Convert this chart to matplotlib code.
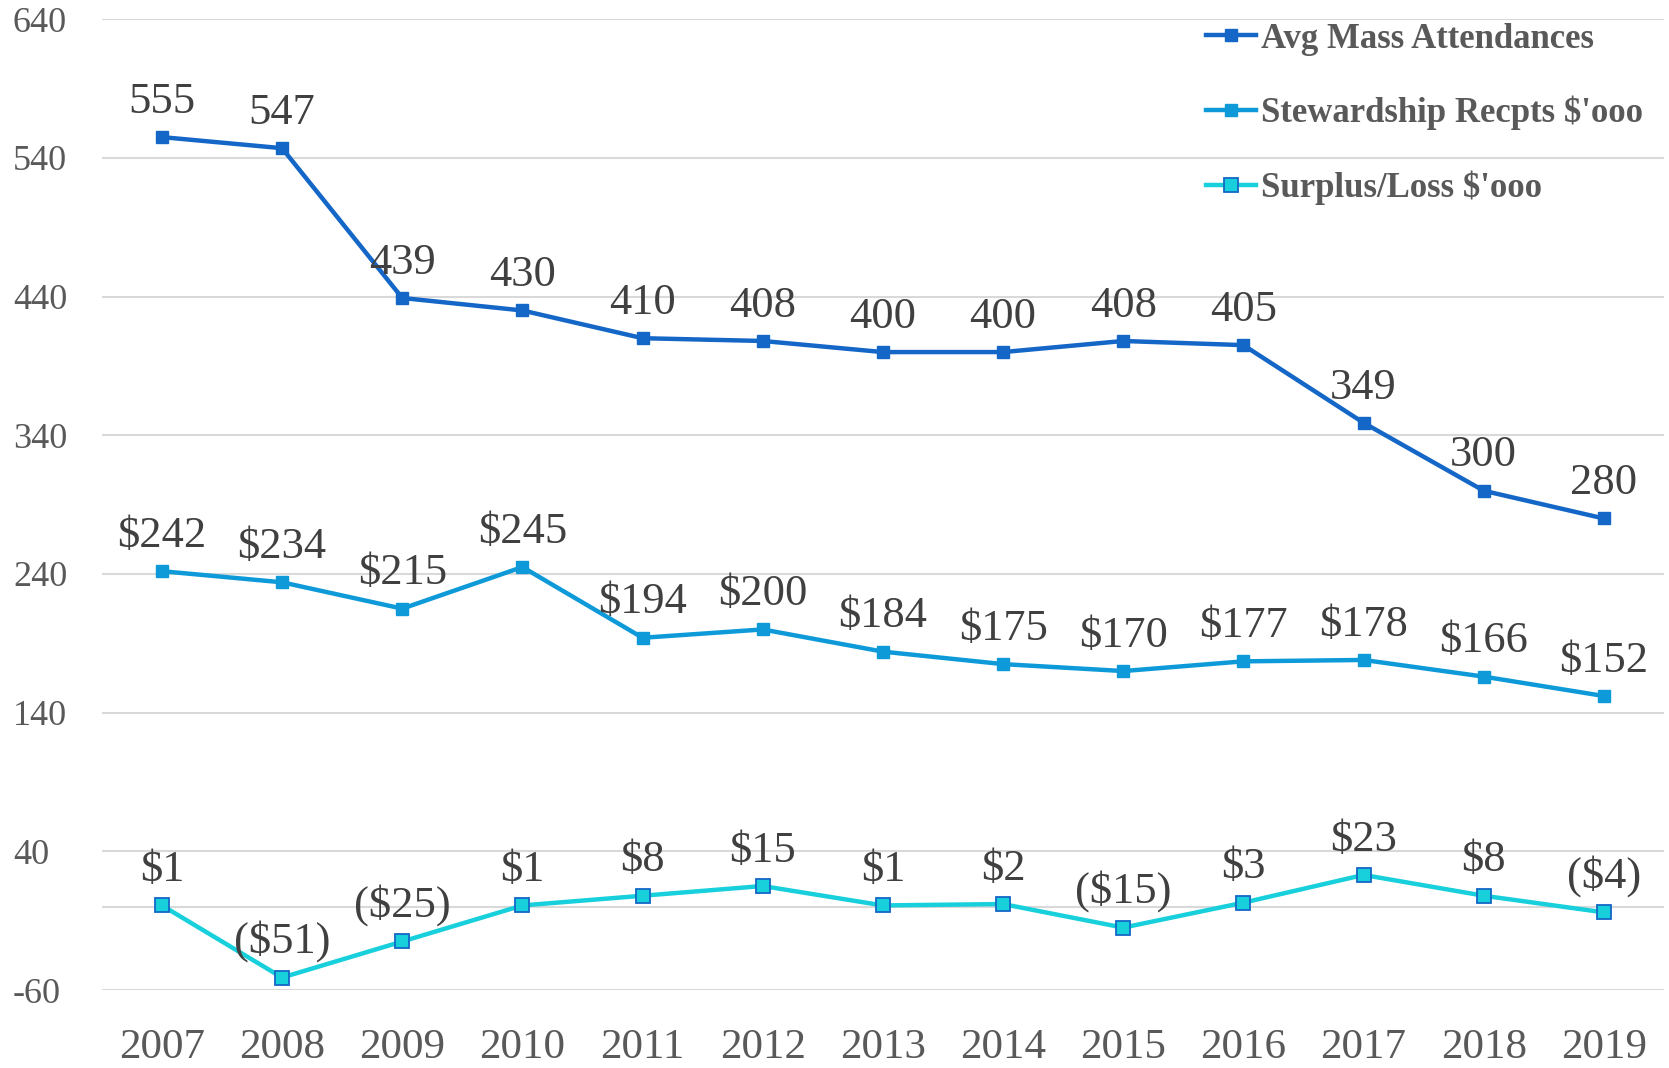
import matplotlib
matplotlib.use("Agg")
import matplotlib.pyplot as plt

years = ["2007", "2008", "2009", "2010", "2011", "2012", "2013",
         "2014", "2015", "2016", "2017", "2018", "2019"]
mass = [555, 547, 439, 430, 410, 408, 400, 400, 408, 405, 349, 300, 280]
stewardship = [242, 234, 215, 245, 194, 200, 184, 175, 170, 177, 178, 166, 152]
surplus = [1, -51, -25, 1, 8, 15, 1, 2, -15, 3, 23, 8, -4]
y_ticks = [-60, 40, 140, 240, 340, 440, 540, 640]

plt.rcParams["font.family"] = ["Liberation Serif", "DejaVu Serif"]
plt.rcParams["axes.unicode_minus"] = False

c_mass = "#1467c6"
c_stew = "#0e9ad8"
c_surp = "#18cfdc"
txt = "#404040"

fig = plt.figure(figsize=(16.69, 10.68), dpi=100)
ax = fig.add_axes([0.061, 0.073, 0.936, 0.909])

x = list(range(len(years)))

ax.plot(x, mass, color=c_mass, lw=3.2, marker="s", ms=9,
        mfc=c_mass, mec=c_mass, label="Avg Mass Attendances", zorder=3)
ax.plot(x, stewardship, color=c_stew, lw=3.2, marker="s", ms=9,
        mfc=c_stew, mec=c_stew, label="Stewardship Recpts $'ooo", zorder=3)
ax.plot(x, surplus, color=c_surp, lw=3.2, marker="s", ms=10,
        mfc=c_surp, mec=c_mass, mew=1.3, label="Surplus/Loss $'ooo", zorder=3)

def money(v):
    return f"${v}" if v >= 0 else f"(${-v})"

for i in x:
    ax.annotate(str(mass[i]), (i, mass[i]), xytext=(0, 11), textcoords="offset points",
                ha="center", va="bottom", fontsize=32, color=txt)
    ax.annotate(money(stewardship[i]), (i, stewardship[i]), xytext=(0, 11),
                textcoords="offset points", ha="center", va="bottom", fontsize=32, color=txt)
    ax.annotate(money(surplus[i]), (i, surplus[i]), xytext=(0, 11),
                textcoords="offset points", ha="center", va="bottom", fontsize=32, color=txt)

ax.set_xlim(-0.5, len(years) - 0.5)
ax.set_ylim(-60, 640)
ax.set_yticks(y_ticks)
ax.set_xticks(x)
ax.set_xticklabels(years)
ax.tick_params(axis="both", length=0, labelcolor="#595959")
ax.tick_params(axis="y", labelsize=26, pad=64)
ax.tick_params(axis="x", labelsize=31, pad=28)
for lab in ax.get_yticklabels():
    lab.set_horizontalalignment("left")
ax.grid(axis="y", color="#d9d9d9", lw=1.5)
ax.axhline(0, color="#d9d9d9", lw=1.5, zorder=1)
for s in ax.spines.values():
    s.set_visible(False)
ax.set_facecolor("white")

leg = ax.legend(loc="upper right", bbox_to_anchor=(1.0, 1.018), frameon=False,
                prop={"weight": "bold", "size": 25}, labelspacing=1.16,
                handlelength=1.45, handletextpad=0.15, borderaxespad=0.2)
for t in leg.get_texts():
    t.set_color("#595959")

fig.savefig("out.png", dpi=100, facecolor="white")
